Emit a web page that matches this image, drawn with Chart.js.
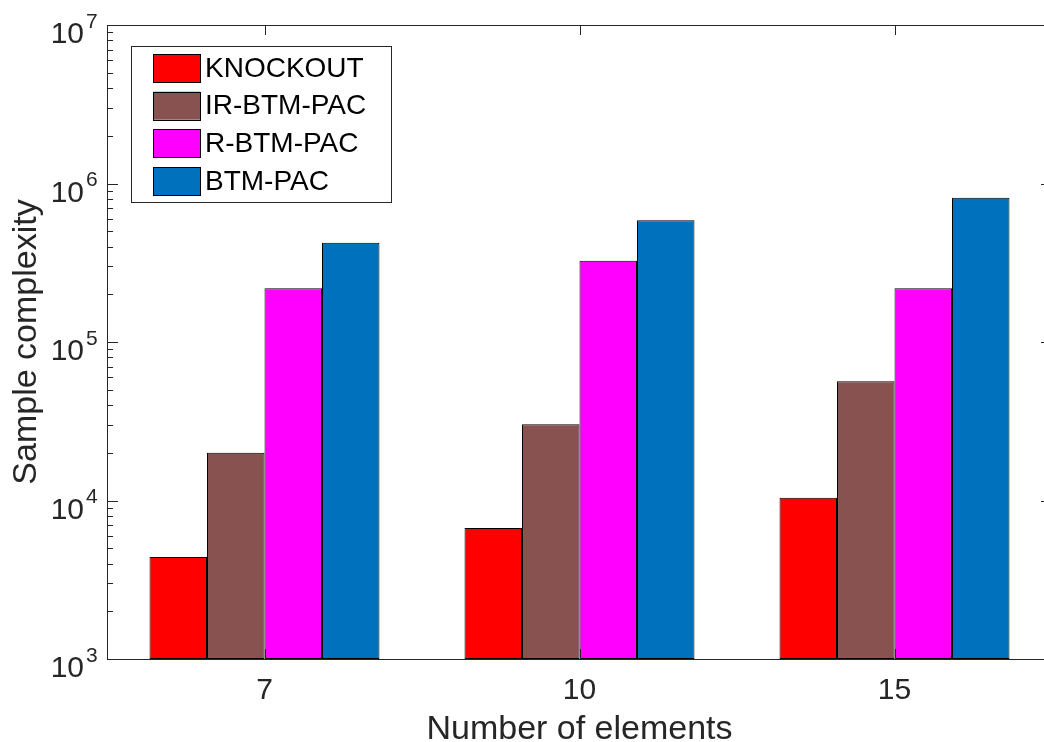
<!DOCTYPE html>
<html>
<head>
<meta charset="utf-8">
<script src="https://cdn.jsdelivr.net/npm/chart.js@4.4.1/dist/chart.umd.min.js"></script>
<style>
  html, body { margin: 0; padding: 0; background: #fff; overflow: hidden; }
  #wrap { position: relative; width: 1044px; height: 742px; overflow: hidden; }
  #chart { position: absolute; left: 0; top: 0; }
</style>
</head>
<body>
<div id="wrap"><canvas id="chart" width="1062" height="742"></canvas></div>
<script>
// Data
const categories = ['7', '10', '15']
const seriesNames = ['KNOCKOUT', 'IR-BTM-PAC', 'R-BTM-PAC', 'BTM-PAC']
const knockout = [4400, 6700, 10400]
const irBtmPac = [20000, 30300, 56500]
const rBtmPac = [218000, 326000, 218000]
const btmPac = [423000, 586000, 813000]
const yExponents = [3, 4, 5, 6, 7]
const xTitle = 'Number of elements'
const yTitle = 'Sample complexity'

// MATLAB-ish look
const RED = '#FF0000'
const BROWN = '#875250'
const MAGENTA = '#FF00FF'
const BLUE = '#0072BD'
const AXIS = '#262626'
const FONT = "'Liberation Sans', Arial, Helvetica, sans-serif"

const seriesColors = [RED, BROWN, MAGENTA, BLUE]
const seriesValues = [knockout, irBtmPac, rBtmPac, btmPac]

// axes box, inward ticks, superscript tick labels, titles, legend
const matlabAxes = {
  id: 'matlabAxes',
  afterDraw(chart) {
    const { ctx, chartArea: a, scales: { x, y } } = chart
    ctx.save()
    ctx.strokeStyle = AXIS
    ctx.lineWidth = 1

    ctx.strokeRect(a.left + 0.5, a.top + 0.5, a.right - a.left, a.bottom - a.top)

    // log ticks on left and right
    ctx.beginPath()
    for (let e = yExponents[0]; e <= yExponents[yExponents.length - 1]; e++) {
      const last = e === yExponents[yExponents.length - 1]
      for (let m = 1; m <= (last ? 1 : 9); m++) {
        const py = Math.round(y.getPixelForValue(m * Math.pow(10, e))) + 0.5
        const len = m === 1 ? 11 : 6
        ctx.moveTo(a.left, py)
        ctx.lineTo(a.left + len, py)
        ctx.moveTo(a.right, py)
        ctx.lineTo(a.right - len, py)
      }
    }
    // category ticks top and bottom
    categories.forEach((c, i) => {
      const px = Math.round(x.getPixelForValue(i)) + 0.5
      ctx.moveTo(px, a.top)
      ctx.lineTo(px, a.top + 10)
      ctx.moveTo(px, a.bottom)
      ctx.lineTo(px, a.bottom - 10)
    })
    ctx.stroke()

    // y tick labels 10^n
    ctx.fillStyle = AXIS
    yExponents.forEach((e) => {
      const py = y.getPixelForValue(Math.pow(10, e))
      ctx.font = '30px ' + FONT
      ctx.textAlign = 'right'
      ctx.textBaseline = 'alphabetic'
      ctx.fillText('10', 84, py + 18)
      ctx.font = '21px ' + FONT
      ctx.textAlign = 'left'
      ctx.fillText(String(e), 86, py + 2.5)
    })

    // x tick labels
    ctx.font = '30px ' + FONT
    ctx.textAlign = 'center'
    categories.forEach((c, i) => {
      ctx.fillText(c, x.getPixelForValue(i), a.bottom + 40)
    })

    // axis titles
    ctx.font = '34px ' + FONT
    ctx.fillText(xTitle, (a.left + a.right) / 2, 739)
    ctx.save()
    ctx.translate(35.5, (a.top + a.bottom) / 2)
    ctx.rotate(-Math.PI / 2)
    ctx.fillText(yTitle, 0, 0)
    ctx.restore()

    // legend box
    const lx = 131, ly = 46, lw = 260, lh = 156
    ctx.fillStyle = '#fff'
    ctx.fillRect(lx, ly, lw, lh)
    ctx.strokeStyle = AXIS
    ctx.strokeRect(lx + 0.5, ly + 0.5, lw, lh)
    ctx.font = '28px ' + FONT
    ctx.textAlign = 'left'
    ctx.textBaseline = 'middle'
    chart.data.datasets.forEach((ds, i) => {
      const top = 54 + i * 37.7
      ctx.fillStyle = ds.backgroundColor
      ctx.fillRect(153, top, 47, 28)
      ctx.strokeStyle = '#000'
      ctx.strokeRect(153.5, Math.round(top) + 0.5, 47, 28)
      ctx.fillStyle = '#000'
      ctx.fillText(ds.label, 205, top + 15)
    })
    ctx.restore()
  },
}

new Chart(document.getElementById('chart'), {
  type: 'bar',
  data: {
    labels: categories,
    datasets: seriesNames.map((name, i) => ({
      label: name,
      data: seriesValues[i],
      backgroundColor: seriesColors[i],
      borderColor: '#000',
      borderWidth: 1,
      borderSkipped: false,
      categoryPercentage: 0.73,
      barPercentage: 1.0,
    })),
  },
  options: {
    responsive: false,
    animation: false,
    devicePixelRatio: 1,
    layout: { padding: { top: 25, right: 10, left: 0, bottom: 0 } },
    plugins: {
      legend: { display: false },
      tooltip: { enabled: false },
    },
    scales: {
      x: {
        grid: { display: false },
        border: { display: false },
        ticks: { display: false },
        afterFit: (s) => { s.height = 83 },
      },
      y: {
        type: 'logarithmic',
        min: 1000,
        max: 10000000,
        grid: { display: false },
        border: { display: false },
        ticks: { display: false },
        afterFit: (s) => { s.width = 107 },
      },
    },
  },
  plugins: [matlabAxes],
})
</script>
</body>
</html>
